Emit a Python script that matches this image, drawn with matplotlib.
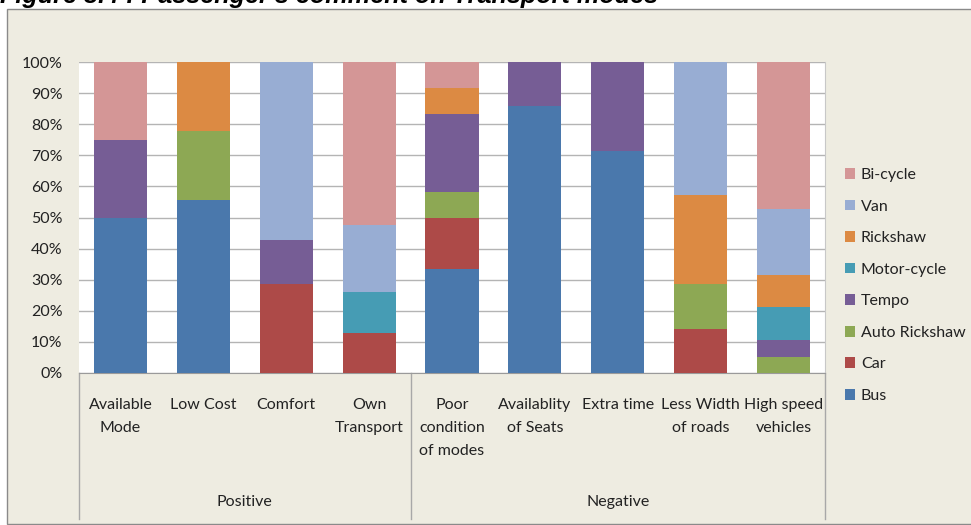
import matplotlib.pyplot as plt
import numpy as np
from matplotlib.patches import Rectangle
from matplotlib.transforms import blended_transform_factory

plt.rcParams["font.family"] = ["Lato", "DejaVu Sans"]

categories = [
    "Available\nMode", "Low Cost", "Comfort", "Own\nTransport",
    "Poor\ncondition\nof modes", "Availablity\nof Seats", "Extra time",
    "Less Width\nof roads", "High speed\nvehicles",
]
groups = ["Positive", "Negative"]
group_sizes = [4, 5]

# percent share of each mode per comment
bus = [50.0, 55.6, 0.0, 0.0, 33.3, 85.7, 71.4, 0.0, 0.0]
car = [0.0, 0.0, 28.6, 13.0, 16.7, 0.0, 0.0, 14.3, 0.0]
auto_rickshaw = [0.0, 22.2, 0.0, 0.0, 8.3, 0.0, 0.0, 14.3, 5.3]
tempo = [25.0, 0.0, 14.3, 0.0, 25.0, 14.3, 28.6, 0.0, 5.3]
motor_cycle = [0.0, 0.0, 0.0, 13.0, 0.0, 0.0, 0.0, 0.0, 10.5]
rickshaw = [0.0, 22.2, 0.0, 0.0, 8.3, 0.0, 0.0, 28.6, 10.5]
van = [0.0, 0.0, 57.1, 21.7, 0.0, 0.0, 0.0, 42.9, 21.1]
bicycle = [25.0, 0.0, 0.0, 52.2, 8.3, 0.0, 0.0, 0.0, 47.4]

series = [
    ("Bus", bus, "#4A78AC"),
    ("Car", car, "#AD4A48"),
    ("Auto Rickshaw", auto_rickshaw, "#8DA854"),
    ("Tempo", tempo, "#765D95"),
    ("Motor-cycle", motor_cycle, "#469CB4"),
    ("Rickshaw", rickshaw, "#DC8A43"),
    ("Van", van, "#98ADD3"),
    ("Bi-cycle", bicycle, "#D49696"),
]

W, H = 971, 525
fig = plt.figure(figsize=(W / 100, H / 100), dpi=100)
fig.patch.set_facecolor("white")

# chart panel behind everything
fig.patches.append(Rectangle((7 / W, 1 / H), 1.0, 1 - 10 / H, transform=fig.transFigure,
                             facecolor="#EEECE1", edgecolor="#8A8A8A", linewidth=1.0, zorder=-5))
# the caption sits mostly above the top edge, as in the source image
fig.text(0.0, 1 - 3 / H, "Figure 3.4 : Passenger's comment on Transport modes",
         family=["Liberation Sans", "DejaVu Sans"], weight="bold", style="italic",
         fontsize=18.2, va="baseline", ha="left", zorder=-4)

ax = fig.add_axes([79 / W, (H - 373) / H, (825 - 79) / W, (373 - 62) / H])
ax.set_zorder(2)
ax.set_facecolor("white")

x = np.arange(len(categories))
bottom = np.zeros(len(categories))
handles = []
for name, vals, color in series:
    vals = np.asarray(vals)
    b = ax.bar(x, vals, 0.64, bottom=bottom, color=color, label=name, zorder=3)
    handles.append(b)
    bottom += vals

ax.set_xlim(-0.5, len(categories) - 0.5)
ax.set_ylim(0, 100)
ax.set_yticks(np.arange(0, 101, 10))
ax.set_yticklabels([f"{v}%" for v in range(0, 101, 10)])
ax.yaxis.grid(True, color="#B4B4B4", linewidth=1.0, zorder=0)
ax.set_axisbelow(True)
ax.tick_params(axis="y", length=0, pad=12, labelsize=11.5, labelcolor="#222222")
ax.set_xticks([])
for side in ["left", "top"]:
    ax.spines[side].set_visible(False)
ax.spines["right"].set_color("#C8C8C8")
ax.spines["bottom"].set_color("#9A9A9A")

# two-level category axis
tr = blended_transform_factory(ax.transData, ax.transAxes)
px = 1.0 / (373 - 62)
for i, label in enumerate(categories):
    ax.text(i, -25 * px, label, transform=tr, ha="center", va="top",
            fontsize=11.5, linespacing=1.82, color="#222222")
edges = np.concatenate([[0], np.cumsum(group_sizes)]) - 0.5
for e in edges:
    ax.plot([e, e], [0, -146 * px], transform=tr, color="#A8A8A8", linewidth=1.0, clip_on=False)
for g, lo, hi in zip(groups, edges[:-1], edges[1:]):
    ax.text((lo + hi) / 2, -129 * px, g, transform=tr, ha="center", va="center",
            fontsize=11.5, color="#222222")

leg = fig.legend(handles[::-1], [s[0] for s in series][::-1], loc="upper left",
                 bbox_to_anchor=(845 / W, 1 - 168 / H), frameon=False, fontsize=11.5,
                 handlelength=0.65, handleheight=0.65, handletextpad=0.35, labelspacing=1.1,
                 borderaxespad=0, borderpad=0)
for t in leg.get_texts():
    t.set_color("#222222")

fig.savefig("out.png", dpi=100)
